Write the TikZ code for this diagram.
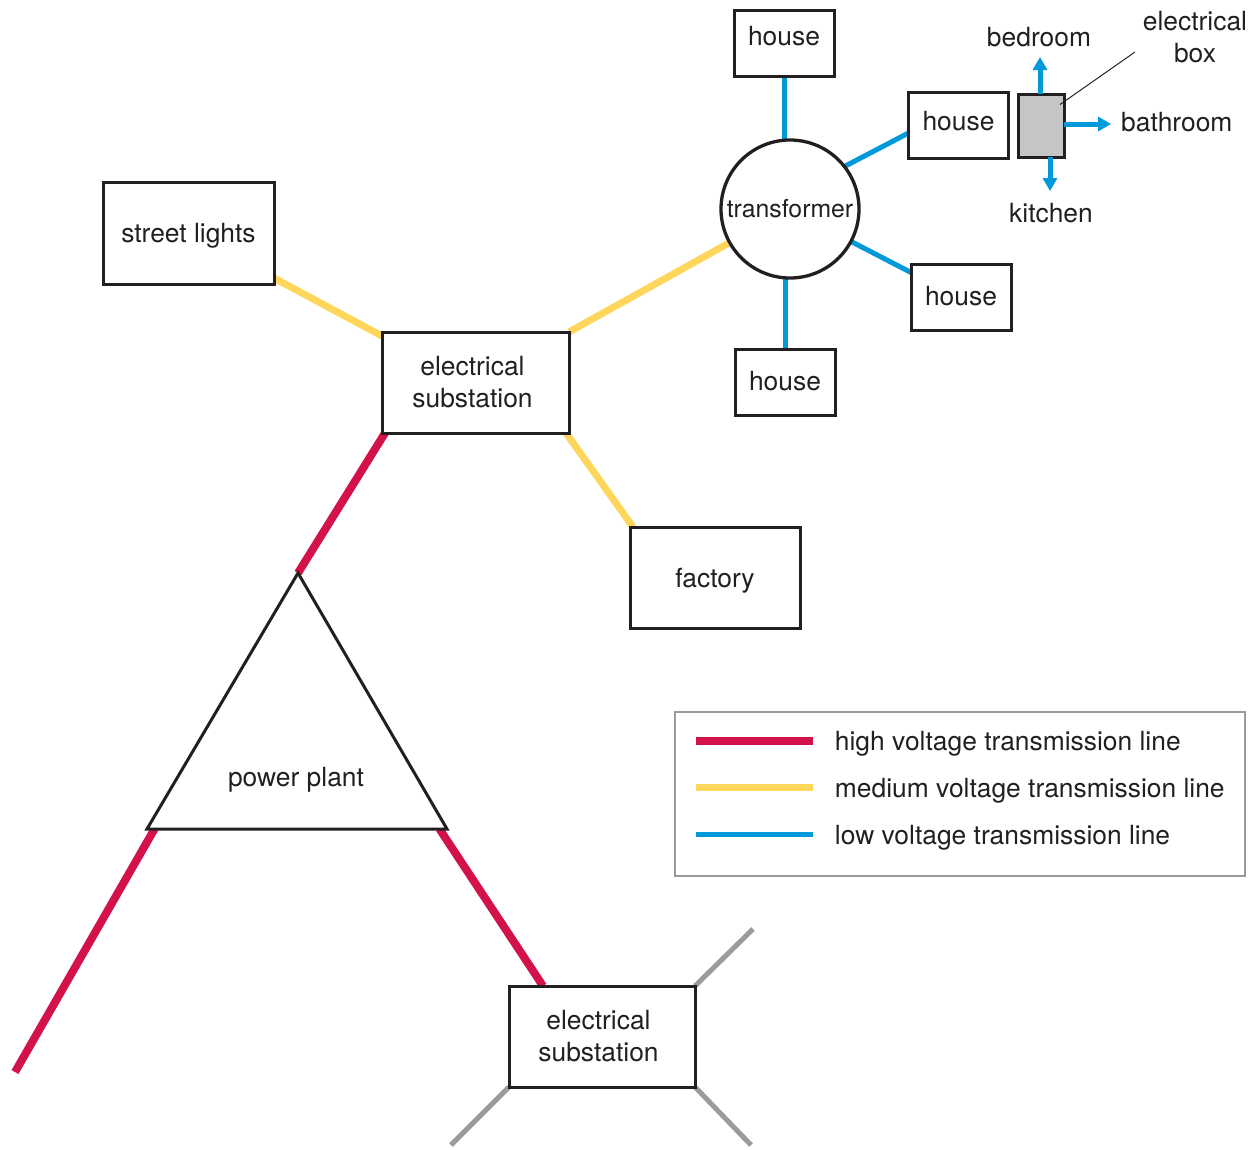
\documentclass[tikz,border=0pt]{standalone}
\usepackage{fontspec}
\setmainfont{TeX Gyre Heros}
\usetikzlibrary{arrows.meta,calc,backgrounds}
\definecolor{hvred}{HTML}{D4124A}
\definecolor{mvyel}{HTML}{FFD65C}
\definecolor{lvblue}{HTML}{0099D9}
\definecolor{greyln}{HTML}{9A9B9D}
\definecolor{boxgrey}{HTML}{C4C5C7}
\definecolor{ink}{HTML}{231F20}
\begin{document}
\begin{tikzpicture}[x=1pt,y=-1pt,
  every node/.style={font=\fontsize{26.4}{32}\selectfont, text=ink, inner sep=0pt},
  box/.style={draw=ink, line width=3pt, fill=white, inner sep=0pt, outer sep=0pt, align=center},
  housebox/.style={box, minimum width=100pt, minimum height=66pt},
  hv/.style={hvred, line width=8pt},
  mv/.style={mvyel, line width=7pt},
  lv/.style={lvblue, line width=5pt},
  gl/.style={greyln, line width=5pt},
  lvarrow/.style={lv, -{Triangle[length=13pt,width=14pt]}},
  pointer/.style={ink, line width=1pt}
]
\useasboundingbox (0,0) rectangle (1258,1149);

% houses and transformer
\node[housebox, text depth=14pt] (h1) at (784,43) {house};
\node[housebox, text depth=8pt] (h2) at (958.5,125) {house};
\node[housebox, text depth=4pt] (h3) at (961,297.5) {house};
\node[housebox, text depth=2pt] (h4) at (785,382) {house};
\node[box, circle, line width=3.3pt, minimum size=138pt, font=\fontsize{24.8}{30}\selectfont] (trans) at (790,209) {transformer};

% electrical box
\node[box, minimum width=46pt, minimum height=63pt, fill=boxgrey] (ebox) at (1041,125.5) {};
\node (bed) at (1039,37) {bedroom};
\node[align=center] (elbl) at (1195,37) {electrical\\box};
\node[anchor=west] (bath) at (1121,122) {bathroom};
\node (kit) at (1051,213) {kitchen};
\coordinate (bedTip) at (1040,57);
\coordinate (kitTip) at (1050,191);
\coordinate (ptrEnd) at (1135,52);
\draw[lvarrow] (ebox.north -| bedTip) -- (bedTip);
\draw[lvarrow] ($(ebox.east)+(0,-1.5)$) -- ++(47,0);
\draw[lvarrow] (ebox.south -| kitTip) -- (kitTip);
\draw[pointer] ($(ebox.center)+(19,-21)$) -- (ptrEnd);

% other boxes
\node[box, minimum width=171pt, minimum height=102pt, text depth=0pt] (sl) at (188.5,233) {street lights};
\node[box, minimum width=187pt, minimum height=101pt] (sub1) at (475.5,382.5) {\hspace*{-6pt}electrical\\\hspace*{-6pt}substation};
\node[box, minimum width=170pt, minimum height=101pt, text depth=0pt] (fac) at (715,577.5) {factory};
\node[box, minimum width=186pt, minimum height=101pt] (sub2) at (602,1036.5) {\hspace*{-7pt}electrical\\\hspace*{-7pt}substation};

% power plant
\coordinate (ppA) at (298,573);
\coordinate (ppL) at (147,829);
\coordinate (ppR) at (447,829);
\draw[draw=ink, line width=3pt, fill=white] (ppA) -- (ppL) -- (ppR) -- cycle;
\node (pp) at (296,780) {power plant};

% free ends
\coordinate (hvEnd) at (15,1072);
\coordinate (g1) at (753,929);
\coordinate (g2) at (451,1145);
\coordinate (g3) at (751,1145);

% legend
\node[draw=greyln, line width=2.5pt, minimum width=570pt, minimum height=164pt] (leg) at (960,794) {};
\draw[hv] ($(leg.north west)+(22,30)$) -- ++(117,0);
\draw[mv] ($(leg.north west)+(22,77)$) -- ++(117,0);
\draw[lv] ($(leg.north west)+(22,124)$) -- ++(117,0);
\node[anchor=west] (l1) at ($(leg.north west)+(161,33)$) {high voltage transmission line};
\node[anchor=west] (l2) at ($(leg.north west)+(161,80)$) {medium voltage transmission line};
\node[anchor=west] (l3) at ($(leg.north west)+(161,127)$) {low voltage transmission line};

\begin{pgfonlayer}{background}
\draw[hv] ($(sub1.south west)+(3,0)$) -- (ppA);
\draw[hv] ($(ppL)!0.025!(ppR)$) -- (hvEnd);
\draw[hv] ($(ppL)!0.975!(ppR)$) -- ($(sub2.north west)+(34,0)$);
\draw[mv] ($(sl.south east)+(0,-6)$) -- ($(sub1.north west)+(0,4)$);
\draw[mv] (sub1.north east) -- (trans);
\draw[mv] ($(sub1.south east)+(-3,0)$) -- ($(fac.north west)+(3,0)$);
\draw[lv] (h1.south) -- (h1.south |- trans.north);
\draw[lv] ($(h2.north west)+(0,41)$) -- (trans.38);
\draw[lv] ($(h3.north west)+(0,8)$) -- (trans.332);
\draw[lv] (h4.north) -- (h4.north |- trans.south);
\draw[gl] (sub2.north east) -- (g1);
\draw[gl] (sub2.south west) -- (g2);
\draw[gl] (sub2.south east) -- (g3);
\end{pgfonlayer}
\end{tikzpicture}
\end{document}
